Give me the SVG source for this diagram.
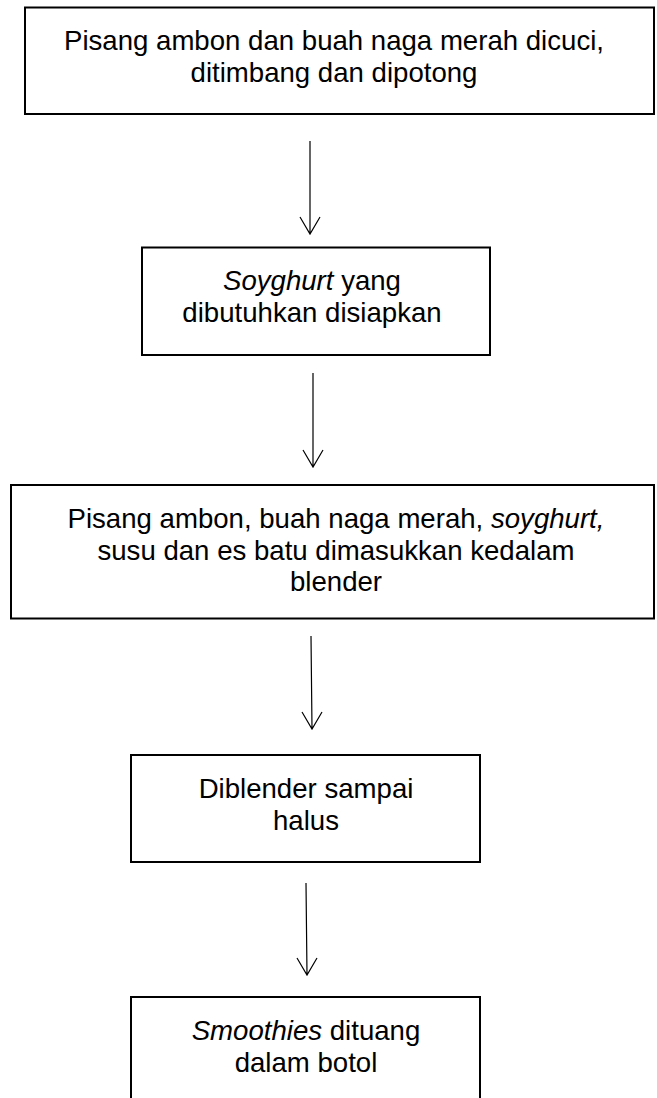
<svg xmlns="http://www.w3.org/2000/svg" width="657" height="1098" viewBox="0 0 657 1098">
<defs>
<style>
.box{fill:#fff;stroke:#000;stroke-width:2}
.t{font-family:"Liberation Sans",Arial,sans-serif;font-size:27.6px;fill:#000;text-anchor:middle}
.i{font-style:italic}
.c{stroke:#000;stroke-width:1.2;fill:none}
</style>
</defs>
<rect width="657" height="1098" fill="#fff"/>
<g id="node1">
<rect class="box" x="25" y="7.5" width="629" height="106.5"/>
<text class="t" x="334" y="50">Pisang ambon dan buah naga merah dicuci,</text>
<text class="t" x="334" y="82">ditimbang dan dipotong</text>
</g>
<g id="node2">
<rect class="box" x="142" y="247.5" width="348" height="107.5"/>
<text class="t" x="312" y="290"><tspan class="i">Soyghurt</tspan> yang</text>
<text class="t" x="312" y="322">dibutuhkan disiapkan</text>
</g>
<g id="node3">
<rect class="box" x="11" y="485" width="643" height="133.5"/>
<text class="t" x="336" y="528">Pisang ambon, buah naga merah, <tspan class="i">soyghurt,</tspan></text>
<text class="t" x="336" y="559.5">susu dan es batu dimasukkan kedalam</text>
<text class="t" x="336" y="591">blender</text>
</g>
<g id="node4">
<rect class="box" x="131" y="755" width="349" height="107"/>
<text class="t" x="306" y="798">Diblender sampai</text>
<text class="t" x="306" y="830">halus</text>
</g>
<g id="node5">
<rect class="box" x="131" y="997" width="349" height="110"/>
<text class="t" x="306" y="1040"><tspan class="i">Smoothies</tspan> dituang</text>
<text class="t" x="306" y="1072">dalam botol</text>
</g>
<g id="connectors">
<path class="c" d="M310 141 L310 234 M300 217 L310 234 L320 217"/>
<path class="c" d="M313 373 L313 467 M303 450 L313 467 L323 450"/>
<path class="c" d="M311 636 L312 729 M302 712 L312 729 L322 712"/>
<path class="c" d="M306 883 L307 975 M297 958 L307 975 L317 958"/>
</g>
</svg>
